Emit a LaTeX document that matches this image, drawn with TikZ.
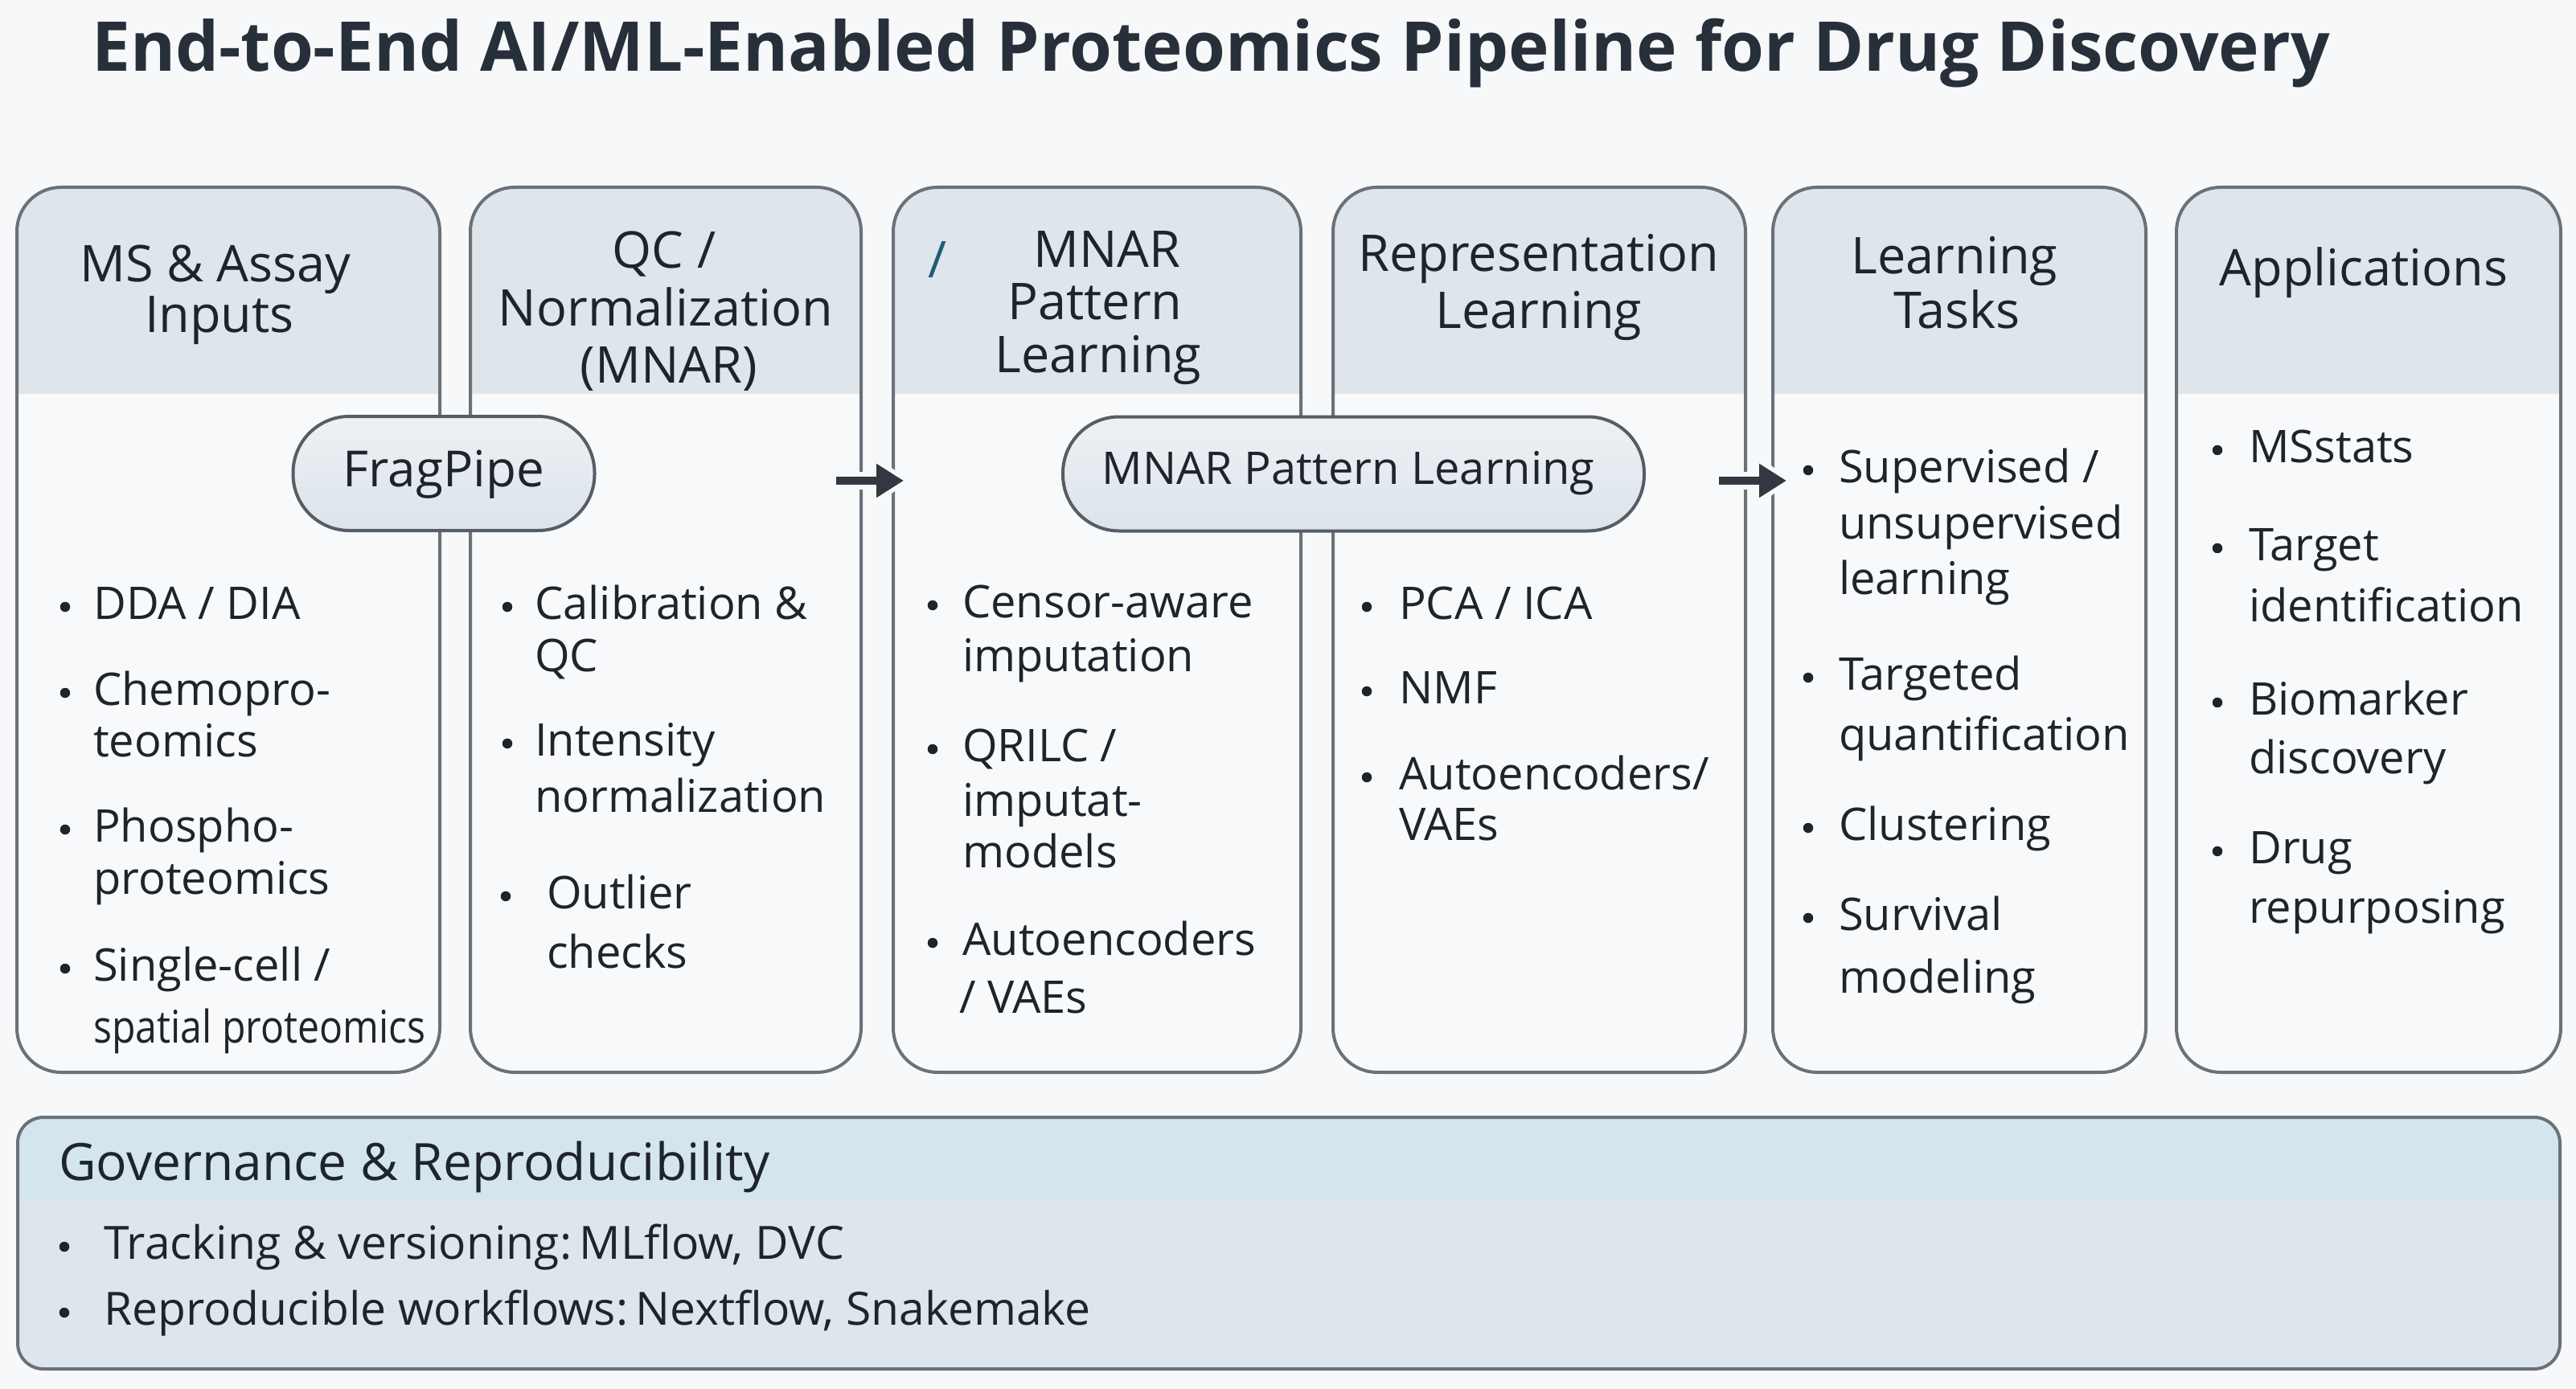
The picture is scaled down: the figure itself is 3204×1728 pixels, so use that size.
\documentclass[tikz,border=0pt]{standalone}
\usepackage{fontspec}
\usepackage{graphicx}
\setmainfont{Open Sans}
\newfontfamily\medfont{Open Sans}
\usetikzlibrary{arrows.meta}
\definecolor{bgc}{HTML}{F7F8F9}
\definecolor{hdrc}{HTML}{DEE5EB}
\definecolor{bodyc}{HTML}{F8F9FA}
\definecolor{bordc}{HTML}{6A7179}
\definecolor{pilltop}{HTML}{EDF1F4}
\definecolor{pillbot}{HTML}{DCE4EA}
\definecolor{pillb}{HTML}{555D66}
\definecolor{txtc}{HTML}{1E242B}
\definecolor{titc}{HTML}{27303A}
\definecolor{arrc}{HTML}{323841}
\definecolor{govtop}{HTML}{D4E5ED}
\definecolor{govbot}{HTML}{DDE5ED}
\definecolor{slashc}{HTML}{1D5E76}
\tikzset{
  colbox/.style={draw=bordc, line width=4, fill=bodyc, rounded corners=55,
    minimum height=1101, inner sep=0,
    path picture={\fill[hdrc, sharp corners] (path picture bounding box.north west) rectangle ([yshift=-257pt]path picture bounding box.north east);}},
  govbox/.style={draw=bordc, line width=4, fill=govbot, rounded corners=32,
    minimum height=313, minimum width=3162, inner sep=0,
    path picture={\fill[govtop, sharp corners] (path picture bounding box.north west) rectangle ([yshift=-103pt]path picture bounding box.north east);}},
  hdtxt/.style={font=\medfont\fontsize{63}{70}\selectfont, text=txtc, anchor=base, inner sep=0},
  bodytxt/.style={font=\fontsize{56}{66}\selectfont, text=txtc, anchor=base west, inner sep=0},
  govtxt/.style={font=\fontsize{57}{66}\selectfont, text=txtc, anchor=base west, inner sep=0},
  dotn/.style={circle, fill=txtc, minimum size=12.5, inner sep=0},
  pill/.style={draw=pillb, line width=4, top color=pilltop, bottom color=pillbot, rounded corners=70, minimum height=142, inner sep=0},
  pilltxt/.style={font=\medfont, text=txtc, anchor=base, inner sep=0},
  halo/.style={draw=bgc, line width=22, -{Triangle[length=44pt,width=58pt]}},
  flowarrow/.style={draw=arrc, line width=10, -{Triangle[length=34pt,width=40pt]}}
}
\newcommand\bline[4]{\node[bodytxt] (#1) at (#2,#3) {#4};}
\newcommand\bdot[3]{\node[dotn] (#1) at (#2,{#3-15}) {};}
\begin{document}
\begin{tikzpicture}[x=1pt,y=-1pt]
\useasboundingbox (0,0) rectangle (3204,1728);
\fill[bgc] (0,0) rectangle (3204,1728);

% title
\node[anchor=base west, inner sep=0, font=\bfseries\fontsize{85.5}{94}\selectfont, text=titc] (title) at (114,89)
  {End-to-End AI/ML-Enabled Proteomics Pipeline for Drug Discovery};

% columns
\node[colbox, minimum width=526] (c1) at (284,783.5) {};
\node[colbox, minimum width=486] (c2) at (828,783.5) {};
\node[colbox, minimum width=507] (c3) at (1364.5,783.5) {};
\node[colbox, minimum width=513] (c4) at (1914.5,783.5) {};
\node[colbox, minimum width=464] (c5) at (2437,783.5) {};
\node[colbox, minimum width=478] (c6) at (2946,783.5) {};

% headers
\node[hdtxt] (h1a) at (268,350) {MS \& Assay};
\node[hdtxt] (h1b) at (273,413) {Inputs};
\node[hdtxt] (h2a) at (826,333) {QC /};
\node[hdtxt] (h2b) at (828,405) {Normalization};
\node[hdtxt] (h2c) at (832,476) {(MNAR)};
\node[hdtxt, text=slashc] (h3s) at (1166,345) {/};
\node[hdtxt] (h3a) at (1377,332) {MNAR};
\node[hdtxt] (h3b) at (1362,397) {Pattern};
\node[hdtxt] (h3c) at (1366,463) {Learning};
\node[hdtxt] (h4a) at (1914,337) {Representation};
\node[hdtxt] (h4b) at (1914,408) {Learning};
\node[hdtxt] (h5a) at (2431,340) {Learning};
\node[hdtxt] (h5b) at (2434,408) {Tasks};
\node[hdtxt] (h6a) at (2940,355) {Applications};

% pills
\node[pill, minimum width=375] (frag) at (552,589) {};
\node[pilltxt, font=\medfont\fontsize{62}{68}\selectfont] (fragt) at (552,605) {FragPipe};
\node[pill, minimum width=723] (mnarp) at (1683.5,589.5) {};
\node[pilltxt, font=\medfont\fontsize{56}{64}\selectfont] (mnart) at (1677,602) {MNAR Pattern Learning};

% arrows
\coordinate (a1s) at (1040,598);
\coordinate (a1e) at (1124,598);
\coordinate (a1h) at (1132,598);
\coordinate (a2s) at (2138,598);
\coordinate (a2e) at (2222,598);
\coordinate (a2h) at (2230,598);
\draw[halo] ([xshift=-6pt]a1s) -- (a1h);
\draw[flowarrow] (a1s) -- (a1e);
\draw[halo] ([xshift=-6pt]a2s) -- (a2h);
\draw[flowarrow] (a2s) -- (a2e);

% column 1
\bdot{d11}{81}{770}\bline{t11}{116}{770}{DDA / DIA}
\bdot{d12}{81}{877}\bline{t12}{116}{877}{Chemopro-}\bline{t12b}{116}{941}{teomics}
\bdot{d13}{81}{1047}\bline{t13}{116}{1047}{Phospho-}\bline{t13b}{116}{1112}{proteomics}
\bdot{d14}{81}{1220}\bline{t14}{116}{1220}{Single-cell /}
\node[bodytxt] (t14b) at (116,1297) {\scalebox{0.86}[1]{spatial proteomics}};

% column 2
\bdot{d21}{631}{770}\bline{t21}{665}{770}{Calibration \&}\bline{t21b}{665}{835}{QC}
\bdot{d22}{631}{940}\bline{t22}{665}{940}{Intensity}\bline{t22b}{665}{1010}{normalization}
\bdot{d23}{629}{1130}\bline{t23}{680}{1130}{Outlier}\bline{t23b}{680}{1204}{checks}

% column 3
\bdot{d31}{1160}{768}\bline{t31}{1197}{768}{Censor-aware}\bline{t31b}{1197}{835}{imputation}
\bdot{d32}{1160}{947}\bline{t32}{1197}{947}{QRILC /}\bline{t32b}{1197}{1015}{imputat-}\bline{t32c}{1197}{1079}{models}
\bdot{d33}{1160}{1188}\bline{t33}{1197}{1188}{Autoencoders}\bline{t33b}{1193}{1260}{/ VAEs}

% column 4
\bdot{d41}{1700}{770}\bline{t41}{1740}{770}{PCA / ICA}
\bdot{d42}{1700}{875}\bline{t42}{1740}{875}{NMF}
\bdot{d43}{1700}{982}\bline{t43}{1740}{982}{Autoencoders/}\bline{t43b}{1740}{1045}{VAEs}

% column 5
\bdot{d51}{2249}{600}\bline{t51}{2287}{600}{Supervised /}\bline{t51b}{2287}{670}{unsupervised}\bline{t51c}{2287}{739}{learning}
\bdot{d52}{2249}{858}\bline{t52}{2287}{858}{Targeted}\bline{t52b}{2287}{933}{quantification}
\bdot{d53}{2249}{1045}\bline{t53}{2287}{1045}{Clustering}
\bdot{d54}{2249}{1157}\bline{t54}{2287}{1157}{Survival}\bline{t54b}{2287}{1235}{modeling}

% column 6
\bdot{d61}{2758}{575}\bline{t61}{2797}{575}{MSstats}
\bdot{d62}{2758}{697}\bline{t62}{2797}{697}{Target}\bline{t62b}{2797}{773}{identification}
\bdot{d63}{2758}{889}\bline{t63}{2797}{889}{Biomarker}\bline{t63b}{2797}{962}{discovery}
\bdot{d64}{2758}{1074}\bline{t64}{2797}{1074}{Drug}\bline{t64b}{2797}{1148}{repurposing}

% governance
\node[govbox] (gov) at (1603,1546.5) {};
\node[anchor=base west, inner sep=0, font=\medfont\fontsize{64}{70}\selectfont, text=txtc] (govt) at (73,1468) {Governance \& Reproducibility};
\node[dotn] (g1d) at (80,1551) {};
\node[govtxt] (g1) at (129,1566) {Tracking \& versioning:\,MLflow, DVC};
\node[dotn] (g2d) at (80,1633) {};
\node[govtxt] (g2) at (129,1648) {Reproducible workflows:\,Nextflow, Snakemake};
\end{tikzpicture}
\end{document}
